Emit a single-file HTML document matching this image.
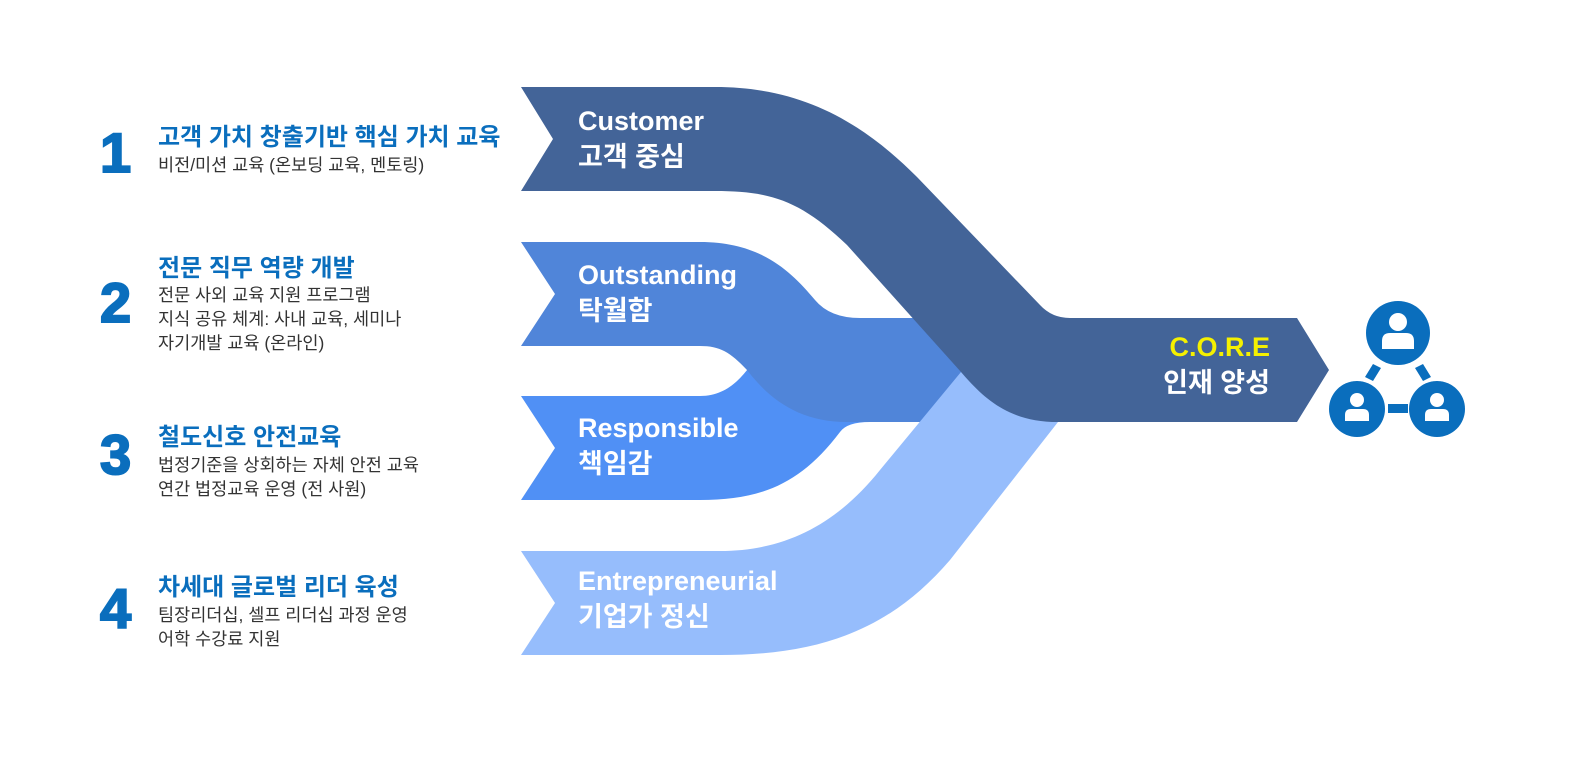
<!DOCTYPE html>
<html><head><meta charset="utf-8"><style>
body{margin:0;background:#fff;}
svg{display:block;}
.n{font-family:"Liberation Sans",sans-serif;font-weight:bold;font-size:56px;fill:#0a6ebd;stroke:#0a6ebd;stroke-width:2px;}
.t{font-family:"Liberation Sans","Noto Sans CJK KR",sans-serif;font-weight:bold;font-size:24px;fill:#0a6ebd;}
.s{font-family:"Liberation Sans","Noto Sans CJK KR",sans-serif;font-size:17.5px;fill:#333;}
.w{font-family:"Liberation Sans","Noto Sans CJK KR",sans-serif;font-weight:bold;font-size:27px;fill:#fff;}
</style></head><body>
<svg width="1571" height="759" viewBox="0 0 1571 759">
<text class="n" x="100" y="172">1</text>
<text class="t" x="158" y="145">고객 가치 창출기반 핵심 가치 교육</text>
<text class="s" x="158" y="171">비전/미션 교육 (온보딩 교육, 멘토링)</text>

<text class="n" x="100" y="322">2</text>
<text class="t" x="158" y="276">전문 직무 역량 개발</text>
<text class="s" x="158" y="301">전문 사외 교육 지원 프로그램</text>
<text class="s" x="158" y="325">지식 공유 체계: 사내 교육, 세미나</text>
<text class="s" x="158" y="349">자기개발 교육 (온라인)</text>

<text class="n" x="100" y="474">3</text>
<text class="t" x="158" y="445">철도신호 안전교육</text>
<text class="s" x="158" y="471">법정기준을 상회하는 자체 안전 교육</text>
<text class="s" x="158" y="495">연간 법정교육 운영 (전 사원)</text>

<text class="n" x="100" y="628">4</text>
<text class="t" x="158" y="595">차세대 글로벌 리더 육성</text>
<text class="s" x="158" y="621">팀장리더십, 셀프 리더십 과정 운영</text>
<text class="s" x="158" y="645">어학 수강료 지원</text>

<path fill="#5090f5" d="M521,396 H700 C725,396 740,380 750,366 L870,366 L870,422 Q847,422 840,432 C800,485 760,500 700,500 H521 L555,448 Z"/>
<path fill="#5085d9" d="M521,242 H700 C760,242 790,270 815,300 Q830,318 860,318 H980 V422 H847 C800,422 770,400 747,370 C730,352 720,346 700,346 H521 L555,294 Z"/>
<path fill="#96bdfc" d="M521,551 H720 C790,551 840,520 880,470 L961,372 L1060,372 L1058,422 L950,560 C890,630 820,655 720,655 H521 L555,603 Z"/>
<path fill="#436498" d="M521,87 H715 C800,87 860,120 917,177 L1040,305 Q1052,318 1070,318 H1297 L1329,370 L1297,422 H1058 C1010,422 985,400 961,372 L847,245 C800,200 770,191 715,191 H521 L553,139 Z"/>

<text class="w" x="578" y="130">Customer</text>
<text class="w" x="578" y="166">고객 중심</text>
<text class="w" x="578" y="284">Outstanding</text>
<text class="w" x="578" y="320">탁월함</text>
<text class="w" x="578" y="437">Responsible</text>
<text class="w" x="578" y="473">책임감</text>
<text class="w" x="578" y="590">Entrepreneurial</text>
<text class="w" x="578" y="626">기업가 정신</text>
<text class="w" x="1270" y="356" text-anchor="end" style="fill:#f5f000">C.O.R.E</text>
<text class="w" x="1270" y="392" text-anchor="end">인재 양성</text>

<g fill="#0a6ebd">
<circle cx="1398" cy="333" r="32"/>
<circle cx="1357" cy="409" r="28"/>
<circle cx="1437" cy="409" r="28"/>
<rect x="1388" y="404" width="20" height="9"/>
<path d="M1373,364 L1381,368 L1373,381 L1365,377 Z"/>
<path d="M1415,368 L1423,364 L1431,377 L1423,381 Z"/>
</g>
<g fill="#fff">
<circle cx="1398" cy="322" r="9"/>
<path d="M1382,349 V341 Q1382,333 1390,333 H1406 Q1414,333 1414,341 V349 Z"/>
<circle cx="1357" cy="400" r="7"/>
<path d="M1345,421 V415 Q1345,409 1351,409 H1363 Q1369,409 1369,415 V421 Z"/>
<circle cx="1437" cy="400" r="7"/>
<path d="M1425,421 V415 Q1425,409 1431,409 H1443 Q1449,409 1449,415 V421 Z"/>
</g>
</svg>
</body></html>
